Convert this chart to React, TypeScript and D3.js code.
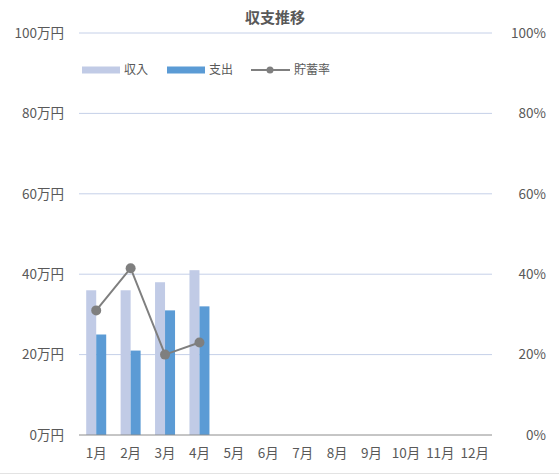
import { useEffect, useRef } from 'react';
import * as d3 from 'd3';

const months = ['1月', '2月', '3月', '4月', '5月', '6月', '7月', '8月', '9月', '10月', '11月', '12月'];
const income = [36, 36, 38, 41];
const expense = [25, 21, 31, 32];
const savingsRate = [31, 41.5, 20, 23];
const leftTicks = [0, 20, 40, 60, 80, 100];
const rightTicks = [0, 20, 40, 60, 80, 100];

export default function App() {
  const chartRef = useRef<SVGSVGElement>(null);

  useEffect(() => {
    if (!chartRef.current) return;
    const svg = d3.select(chartRef.current);
    svg.selectAll('*').remove();

    const width = 559;
    const height = 475;
    const marginLeft = 79;
    const marginRight = 67;
    const marginTop = 33;
    const marginBottom = 40;
    const font = '"Noto Sans CJK JP", "Noto Sans", sans-serif';
    const textColor = '#595959';

    const x = d3.scaleBand()
      .domain(months)
      .range([marginLeft, width - marginRight]);

    const y = d3.scaleLinear()
      .domain([0, 100])
      .range([height - marginBottom, marginTop]);

    const yRight = d3.scaleLinear()
      .domain([0, 100])
      .range([height - marginBottom, marginTop]);

    svg.attr('width', width).attr('height', height);

    svg.append('rect')
      .attr('width', width).attr('height', height).attr('fill', 'white');

    // gridlines
    svg.append('g')
      .selectAll('line')
      .data(leftTicks.filter(d => d > 0))
      .join('line')
      .attr('x1', marginLeft)
      .attr('x2', width - marginRight)
      .attr('y1', d => y(d))
      .attr('y2', d => y(d))
      .attr('stroke', '#c5d0e8')
      .attr('stroke-width', 1);

    // left labels
    svg.append('g')
      .selectAll('text')
      .data(leftTicks)
      .join('text')
      .attr('x', 64)
      .attr('y', d => y(d))
      .attr('dy', '0.35em')
      .attr('text-anchor', 'end')
      .style('font-family', font)
      .style('font-size', '13.5px')
      .style('fill', textColor)
      .text(d => `${d}万円`);

    // right labels
    svg.append('g')
      .selectAll('text')
      .data(rightTicks)
      .join('text')
      .attr('x', 546)
      .attr('y', d => yRight(d))
      .attr('dy', '0.35em')
      .attr('text-anchor', 'end')
      .style('font-family', font)
      .style('font-size', '13.5px')
      .style('fill', textColor)
      .text(d => `${d}%`);

    // bars
    const barW = 10;
    svg.append('g')
      .selectAll('rect')
      .data(income)
      .join('rect')
      .attr('x', (d, i) => (x(months[i]) || 0) + x.bandwidth() / 2 - barW)
      .attr('y', d => y(d))
      .attr('width', barW)
      .attr('height', d => y(0) - y(d))
      .attr('fill', '#c1cbe6');

    svg.append('g')
      .selectAll('rect')
      .data(expense)
      .join('rect')
      .attr('x', (d, i) => (x(months[i]) || 0) + x.bandwidth() / 2)
      .attr('y', d => y(d))
      .attr('width', barW)
      .attr('height', d => y(0) - y(d))
      .attr('fill', '#5b9bd5');

    // bottom axis line
    svg.append('line')
      .attr('x1', marginLeft)
      .attr('x2', width - marginRight)
      .attr('y1', y(0))
      .attr('y2', y(0))
      .attr('stroke', '#8c8c8c')
      .attr('stroke-width', 1);

    // x labels
    svg.append('g')
      .selectAll('text')
      .data(months)
      .join('text')
      .attr('x', d => (x(d) || 0) + x.bandwidth() / 2)
      .attr('y', y(0) + 23)
      .attr('text-anchor', 'middle')
      .style('font-family', font)
      .style('font-size', '13.5px')
      .style('fill', textColor)
      .text(d => d);

    // savings rate line
    const line = d3.line<number>()
      .x((d, i) => (x(months[i]) || 0) + x.bandwidth() / 2)
      .y(d => yRight(d));

    svg.append('path')
      .datum(savingsRate)
      .attr('d', line)
      .attr('fill', 'none')
      .attr('stroke', '#7f7f7f')
      .attr('stroke-width', 2);

    svg.append('g')
      .selectAll('circle')
      .data(savingsRate)
      .join('circle')
      .attr('cx', (d, i) => (x(months[i]) || 0) + x.bandwidth() / 2)
      .attr('cy', d => yRight(d))
      .attr('r', 5)
      .attr('fill', '#7f7f7f');

    // title
    svg.append('text')
      .attr('x', 275)
      .attr('y', 23)
      .attr('text-anchor', 'middle')
      .style('font-family', font)
      .style('font-size', '15px')
      .style('font-weight', 'bold')
      .style('fill', textColor)
      .text('収支推移');

    // legend
    const legend = svg.append('g').attr('transform', 'translate(0,70)');
    legend.append('rect').attr('x', 82).attr('y', -3.5).attr('width', 38).attr('height', 7).attr('fill', '#c1cbe6');
    legend.append('text').attr('x', 124).attr('y', 0).attr('dy', '0.35em')
      .style('font-family', font).style('font-size', '12px').style('fill', textColor).text('収入');
    legend.append('rect').attr('x', 167).attr('y', -3.5).attr('width', 38).attr('height', 7).attr('fill', '#5b9bd5');
    legend.append('text').attr('x', 209).attr('y', 0).attr('dy', '0.35em')
      .style('font-family', font).style('font-size', '12px').style('fill', textColor).text('支出');
    legend.append('line').attr('x1', 251).attr('x2', 290).attr('y1', 0).attr('y2', 0)
      .attr('stroke', '#7f7f7f').attr('stroke-width', 2);
    legend.append('circle').attr('cx', 270).attr('cy', 0).attr('r', 3.5).attr('fill', '#7f7f7f');
    legend.append('text').attr('x', 294).attr('y', 0).attr('dy', '0.35em')
      .style('font-family', font).style('font-size', '12px').style('fill', textColor).text('貯蓄率');

    // bottom border
    svg.append('line')
      .attr('x1', 0).attr('x2', width).attr('y1', 473.5).attr('y2', 473.5)
      .attr('stroke', '#e3e3e3').attr('stroke-width', 1);
  }, []);

  return (
    <svg ref={chartRef} style={{ position: 'absolute', left: 0, top: 0 }}></svg>
  );
}
